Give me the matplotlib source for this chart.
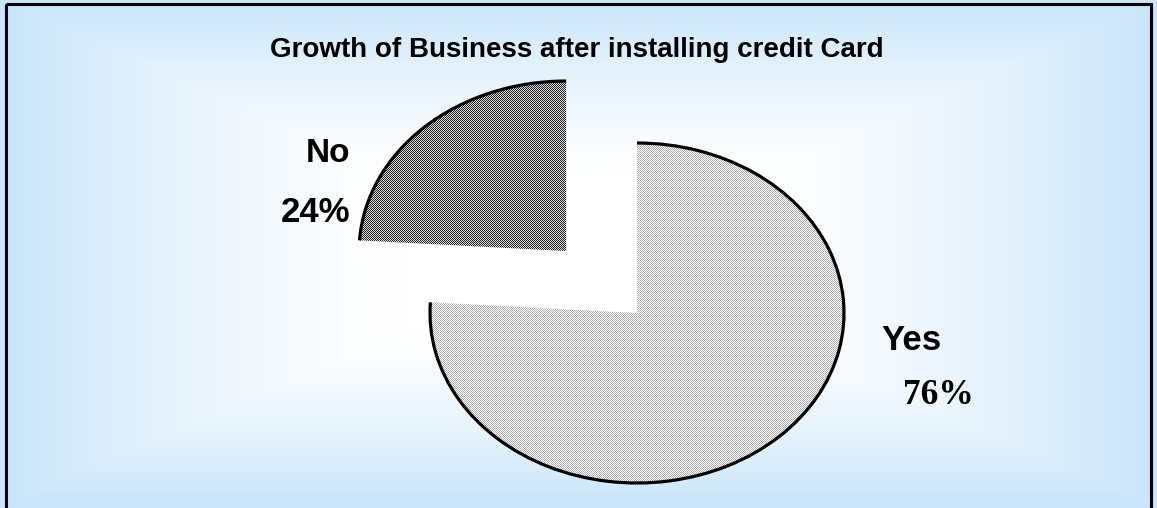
import numpy as np
import matplotlib
matplotlib.use("Agg")
import matplotlib.pyplot as plt
from matplotlib.patches import Arc, Rectangle

# Survey answers
categories = ["No", "Yes"]
shares = [24, 76]
pct_labels = ["24%", "76%"]
title = "Growth of Business after installing credit Card"

W, H = 1157, 508
fig = plt.figure(figsize=(W / 100, H / 100), dpi=100)

# Pie axes: data units chosen so a unit radius becomes a 207 x 170 px ellipse
cx, cy, rx, ry = 637, 313, 207, 170
xlim = (-cx / rx, (W - cx) / rx)
ylim = ((cy - H) / ry, cy / ry)

ax = fig.add_axes([0, 0, 1, 1])
wedges, _ = ax.pie(shares, explode=[0.5, 0.0], startangle=90, counterclock=True,
                   colors=["none", "none"],
                   wedgeprops=dict(linewidth=0, edgecolor="none"))

# Soft rectangular blue-to-white background
yy, xx = np.mgrid[0:H, 0:W]
u = np.abs(xx - W / 2) / (W / 2)
v = np.abs(yy - H / 2) / (H / 2)
d = np.maximum(u, v)
f = np.clip((d - 0.3) / 0.7, 0, 1) ** 1.4
edge = np.array([200, 229, 250]) / 255.0
bg = (1 - f[..., None]) * 1.0 + f[..., None] * edge
ax.imshow(bg, extent=(xlim[0], xlim[1], ylim[0], ylim[1]), origin="upper",
          interpolation="nearest", aspect="auto", zorder=0)

# Fine checker textures for the two slices
checker = ((xx + yy) % 2 == 0)
tex_no = np.where(checker[..., None], 0.12, 0.88) * np.ones(3)
tex_yes = np.where(checker[..., None], 0.68, 1.0) * np.ones(3)
for w, tex in zip(wedges, [tex_no, tex_yes]):
    im = ax.imshow(tex, extent=(xlim[0], xlim[1], ylim[0], ylim[1]),
                   origin="upper", interpolation="nearest", aspect="auto",
                   zorder=2)
    im.set_clip_path(w)
    ax.add_patch(Arc(w.center, 2 * w.r, 2 * w.r, theta1=w.theta1,
                     theta2=w.theta2, lw=2.3, color="black", zorder=3))

ax.set_aspect("auto")
ax.set_xlim(*xlim)
ax.set_ylim(*ylim)
ax.axis("off")

# Overlay in pixel coordinates for text and frame
ov = fig.add_axes([0, 0, 1, 1], facecolor="none")
ov.set_xlim(0, W)
ov.set_ylim(H, 0)
ov.axis("off")

ov.text(577, 50, title, ha="center", va="center", fontsize=20,
        fontweight="bold", family="Liberation Sans")
ov.text(350, 154, categories[0], ha="right", va="center", fontsize=24,
        fontweight="bold", family="Liberation Sans")
ov.text(350, 212, pct_labels[0], ha="right", va="center", fontsize=25,
        fontweight="bold", family="Liberation Sans")
ov.text(911, 341, categories[1], ha="center", va="center", fontsize=25,
        fontweight="bold", family="Liberation Sans")
ov.text(938, 396, pct_labels[1], ha="center", va="center", fontsize=25.5,
        fontweight="bold", family="Liberation Serif")

ov.add_patch(Rectangle((6, 4), W - 12, H + 10, fill=False, lw=2.2,
                       edgecolor="black", clip_on=False))

fig.savefig("out.png", dpi=100)
